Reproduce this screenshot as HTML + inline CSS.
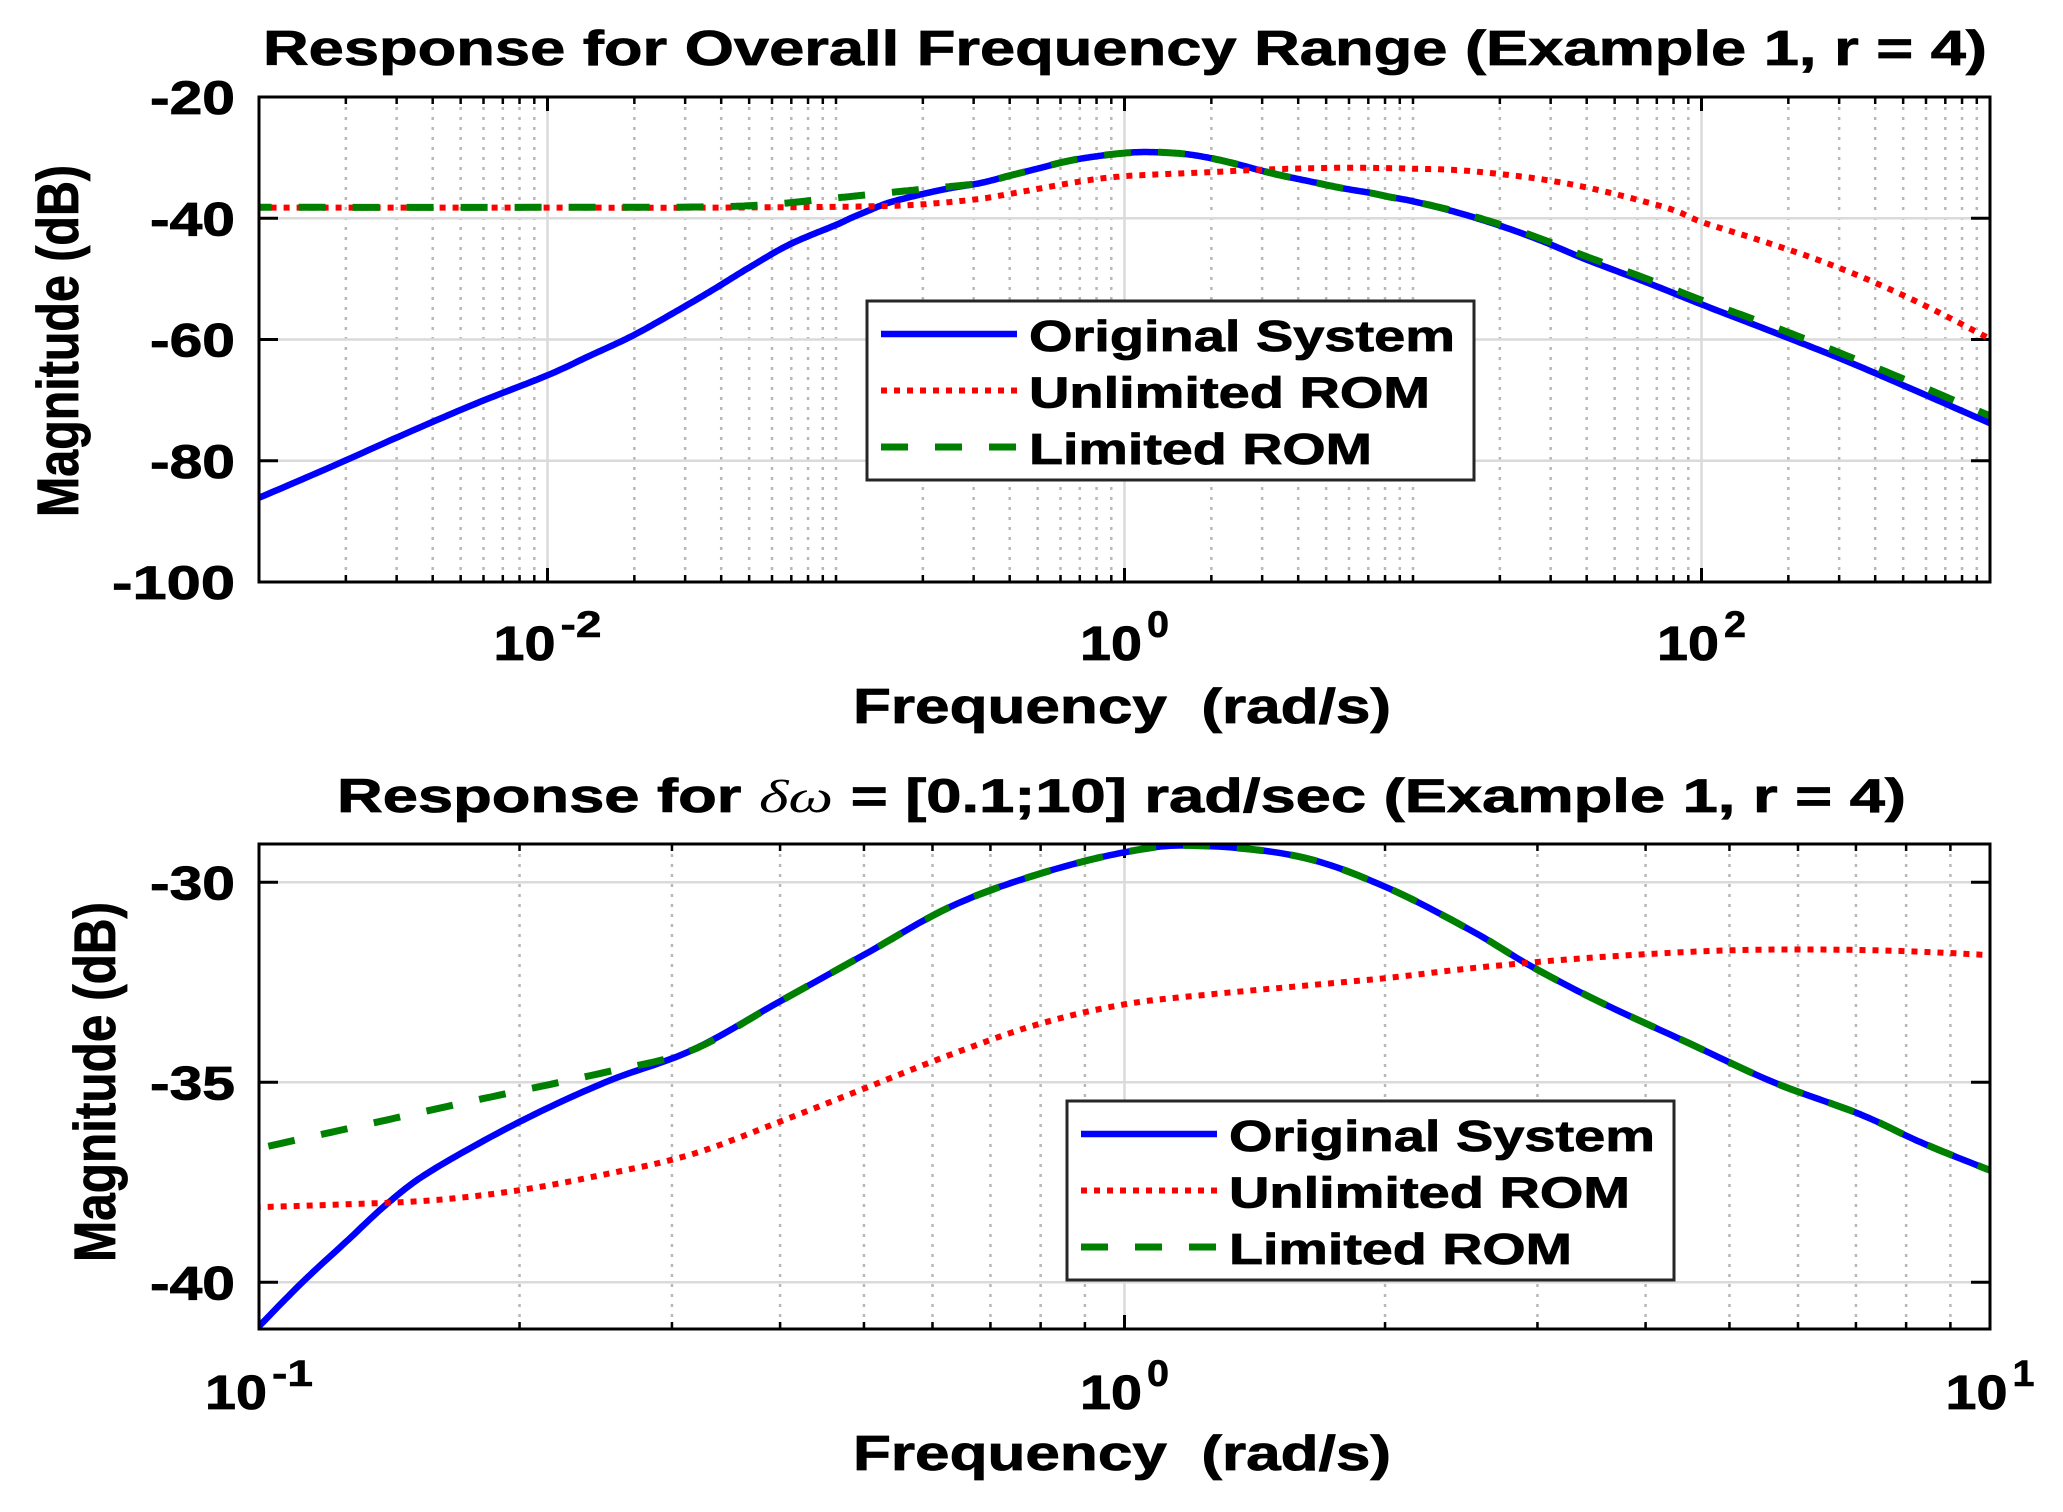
<!DOCTYPE html>
<html><head><meta charset="utf-8">
<style>
html,body{margin:0;padding:0;background:#fff;}
svg{display:block;}
text{font-family:"Liberation Sans",Arial,sans-serif;font-weight:bold;fill:#000;white-space:pre;}
</style></head>
<body>
<svg id="s" width="2063" height="1512" viewBox="0 0 2063 1512" xmlns="http://www.w3.org/2000/svg">
<defs>
<clipPath id="c1"><rect x="259" y="97" width="1731" height="485"/></clipPath>
<clipPath id="c2"><rect x="259" y="844" width="1731" height="485"/></clipPath>
</defs>
<rect width="2063" height="1512" fill="#fff"/>
<g id="g"></g>
<text x="263" y="65" font-size="49" stroke="#000" stroke-width="0.8" textLength="1724" lengthAdjust="spacingAndGlyphs">Response for Overall Frequency Range (Example 1, r = 4)</text>
<text x="337" y="812" font-size="47" stroke="#000" stroke-width="0.8" textLength="1569" lengthAdjust="spacingAndGlyphs">Response for <tspan font-family="Liberation Serif, serif" font-style="italic" font-weight="normal" stroke-width="0">δω</tspan> = [0.1;10] rad/sec (Example 1, r = 4)</text>
<text transform="translate(78,341) rotate(-90)" text-anchor="middle" font-size="58" stroke="#000" stroke-width="0.8" textLength="352" lengthAdjust="spacingAndGlyphs">Magnitude (dB)</text>
<text transform="translate(115,1082) rotate(-90)" text-anchor="middle" font-size="58" stroke="#000" stroke-width="0.8" textLength="360" lengthAdjust="spacingAndGlyphs">Magnitude (dB)</text>
<text x="853" y="723" font-size="49" stroke="#000" stroke-width="0.8" textLength="538" lengthAdjust="spacingAndGlyphs">Frequency  (rad/s)</text>
<text x="853" y="1470" font-size="49" stroke="#000" stroke-width="0.8" textLength="538" lengthAdjust="spacingAndGlyphs">Frequency  (rad/s)</text>
</svg>
<script>
(function(){
var NS="http://www.w3.org/2000/svg",G=document.getElementById('g');
function el(n,a,p){var e=document.createElementNS(NS,n);for(var k in a)e.setAttribute(k,a[k]);(p||G).appendChild(e);return e;}
function txt(s,a){var e=el('text',a);e.textContent=s;return e;}
var L=259,R=1990;
function mk(top,bot,lx0,lx1,yf){return {top:top,bot:bot,x:function(l){return L+(l-lx0)/(lx1-lx0)*(R-L);},y:yf,lx0:lx0,lx1:lx1};}
var T=mk(97,582,-3,3,function(d){return 97+(-20-d)*6.0625;});
var B=mk(844,1329,-1,1,function(d){return 882.3+(-30-d)*40;});
function grid(P,majors,hlines){
  for(var k=Math.floor(P.lx0);k<P.lx1;k++){
    for(var m=1;m<=9;m++){
      var l=k+Math.log10(m); if(l<=P.lx0+1e-6||l>=P.lx1-1e-6)continue;
      var isMaj=majors.some(function(v){return Math.abs(v-l)<1e-6;});
      var x=P.x(l);
      if(!isMaj){
        el('line',{x1:x,x2:x,y1:P.top,y2:P.bot,stroke:'#b8b8b8','stroke-width':2.5,'stroke-dasharray':'3 7'});
        el('line',{x1:x,x2:x,y1:P.top,y2:P.top+7,stroke:'#000','stroke-width':2.5});
        el('line',{x1:x,x2:x,y1:P.bot,y2:P.bot-7,stroke:'#000','stroke-width':2.5});
      }
    }
  }
  majors.forEach(function(l){var x=P.x(l);
    el('line',{x1:x,x2:x,y1:P.top,y2:P.bot,stroke:'#dadada','stroke-width':2.5});
    el('line',{x1:x,x2:x,y1:P.top,y2:P.top+14,stroke:'#000','stroke-width':3});
    el('line',{x1:x,x2:x,y1:P.bot,y2:P.bot-14,stroke:'#000','stroke-width':3});
  });
  hlines.forEach(function(d){var y=P.y(d);
    el('line',{x1:L,x2:R,y1:y,y2:y,stroke:'#dadada','stroke-width':2.5});
    el('line',{x1:L,x2:L+19,y1:y,y2:y,stroke:'#000','stroke-width':3});
    el('line',{x1:R,x2:R-19,y1:y,y2:y,stroke:'#000','stroke-width':3});
  });
}
grid(T,[-2,0,2],[-40,-60,-80]);
grid(B,[0],[-30,-35,-40]);
function cr(P,pts,style,clip){
  var px=pts.map(function(p){return [P.x(p[0]),P.y(p[1])];});
  var d='M'+px[0][0].toFixed(1)+' '+px[0][1].toFixed(1);
  for(var i=0;i<px.length-1;i++){
    var p0=px[Math.max(0,i-1)],p1=px[i],p2=px[i+1],p3=px[Math.min(px.length-1,i+2)];
    for(var t=1;t<=16;t++){var s=t/16,s2=s*s,s3=s2*s;
      var x=0.5*((2*p1[0])+(-p0[0]+p2[0])*s+(2*p0[0]-5*p1[0]+4*p2[0]-p3[0])*s2+(-p0[0]+3*p1[0]-3*p2[0]+p3[0])*s3);
      var y=0.5*((2*p1[1])+(-p0[1]+p2[1])*s+(2*p0[1]-5*p1[1]+4*p2[1]-p3[1])*s2+(-p0[1]+3*p1[1]-3*p2[1]+p3[1])*s3);
      d+=' L'+x.toFixed(1)+' '+y.toFixed(1);}
  }
  var a={d:d,fill:'none','clip-path':'url(#'+clip+')'};for(var k in style)a[k]=style[k];
  el('path',a);
}
var SB={stroke:'#0000ff','stroke-width':6.5};
var SR={stroke:'#ff0000','stroke-width':6,'stroke-dasharray':'6 7'};
var SG={stroke:'#008000','stroke-width':7,'stroke-dasharray':'27 27'};
var blueMid=[[-1,-41.1],[-0.95,-40.0],[-0.9,-39.0],[-0.85,-38.0],[-0.8,-37.2],[-0.7,-36.0],[-0.6,-35.0],[-0.5,-34.2],[-0.4,-33.0],[-0.3,-31.8],[-0.2,-30.6],[-0.1,-29.8],[0,-29.25],[0.08,-29.08],[0.2,-29.35],[0.3,-30.1],[0.4,-31.2],[0.47,-32.1],[0.55,-33.0],[0.65,-34.0],[0.75,-35.0],[0.85,-35.8],[0.92,-36.5],[1,-37.2]];
var greenLow=[[-1,-36.65],[-0.875,-36.05],[-0.75,-35.45],[-0.6,-34.75],[-0.5,-34.2]];
var redMid=[[-1,-38.12],[-0.9,-38.05],[-0.8,-37.95],[-0.7,-37.7],[-0.6,-37.3],[-0.5,-36.8],[-0.4,-36.0],[-0.3,-35.15],[-0.2,-34.3],[-0.1,-33.55],[0,-33.05],[0.1,-32.8],[0.2,-32.6],[0.3,-32.4],[0.4,-32.15],[0.5,-31.95],[0.6,-31.8],[0.7,-31.7],[0.8,-31.68],[0.9,-31.72],[1,-31.82]];
function ext(a,l,v){return a.concat([[l,v]]);}
var blueB=[[-1.05,-42.2]].concat(blueMid,[[1.05,-37.6]]);
var greenB=[[-1.05,-36.9]].concat(greenLow,blueMid.filter(function(p){return p[0]>-0.45;}),[[1.05,-37.6]]);
var redB=[[-1.05,-38.14]].concat(redMid,[[1.05,-31.88]]);
var blueT=[[-3.05,-87],[-3,-86.1],[-2.75,-81],[-2.5,-75.7],[-2.25,-70.6],[-2,-65.9],[-1.85,-62.6],[-1.71,-59.5],[-1.57,-55.8],[-1.43,-51.9],[-1.3,-48.1],[-1.16,-44.3]].concat(blueMid.filter(function(p){return p[0]>-1.05;}),[[1.15,-39.0],[1.3,-41.2],[1.45,-43.8],[1.6,-46.8],[1.8,-50.4],[2,-54.2],[2.25,-58.8],[2.5,-63.5],[2.75,-68.6],[3,-73.8],[3.05,-74.8]]);
var greenT=[[-3.05,-38.2],[-2,-38.2],[-1.5,-38.15],[-1.25,-37.8]].concat(greenLow,blueMid.filter(function(p){return p[0]>-0.45;}),[[1.15,-38.9],[1.3,-41.0],[1.45,-43.5],[1.6,-46.3],[1.8,-49.8],[2,-53.5],[2.25,-57.9],[2.5,-62.6],[2.75,-67.5],[3,-72.6],[3.05,-73.6]]);
var redT=[[-3.05,-38.25],[-2,-38.25],[-1.5,-38.25],[-1.25,-38.2]].concat(redMid,[[1.15,-32.05],[1.3,-32.7],[1.45,-33.6],[1.6,-34.9],[1.75,-36.6],[1.9,-38.6],[2,-40.6],[2.2,-43.6],[2.4,-46.8],[2.6,-50.6],[2.8,-55.0],[3,-59.9],[3.05,-61.1]]);
cr(T,blueT,SB,'c1');cr(T,redT,SR,'c1');cr(T,greenT,SG,'c1');
cr(B,blueB,SB,'c2');cr(B,redB,SR,'c2');cr(B,greenB,SG,'c2');
[T,B].forEach(function(P){el('rect',{x:L,y:P.top,width:R-L,height:P.bot-P.top,fill:'none',stroke:'#000','stroke-width':3});});
function yl(P,vals,w){vals.forEach(function(v,i){txt(String(v),{x:235,y:P.y(v)+17,'text-anchor':'end','font-size':47,stroke:'#000','stroke-width':0.8,textLength:w[i],lengthAdjust:'spacingAndGlyphs'});});}
yl(T,[-20,-40,-60,-80,-100],[85,85,85,85,123]);
yl(B,[-30,-35,-40],[85,85,85]);
function xl(P,l,exp,base){var ew=exp.length>1?41:22;var tot=62+5+ew;var x0=P.x(l)-tot/2;
  txt('10',{x:x0,y:base,'font-size':48,stroke:'#000','stroke-width':0.8,textLength:62,lengthAdjust:'spacingAndGlyphs'});
  txt(exp,{x:x0+67,y:base-23,'font-size':37,stroke:'#000','stroke-width':0.6,textLength:ew,lengthAdjust:'spacingAndGlyphs'});}
xl(T,-2,'-2',660);xl(T,0,'0',660);xl(T,2,'2',660);
xl(B,-1,'-1',1409);xl(B,0,'0',1409);xl(B,1,'1',1409);
function leg(x,y){
  el('rect',{x:x,y:y,width:607,height:179,fill:'#fff',stroke:'#262626','stroke-width':3});
  var rows=[['Original System',SB,426],['Unlimited ROM',SR,401],['Limited ROM',SG,343]];
  rows.forEach(function(r,i){var by=y+50+i*56.5;var ly=by-17;
    var a={x1:x+14,x2:x+150,y1:ly,y2:ly};for(var k in r[1])a[k]=r[1][k];el('line',a);
    txt(r[0],{x:x+162,y:by,'font-size':44,stroke:'#000','stroke-width':0.8,textLength:r[2],lengthAdjust:'spacingAndGlyphs'});});
}
leg(867,301);leg(1067,1101);
})();
</script>
</body></html>
